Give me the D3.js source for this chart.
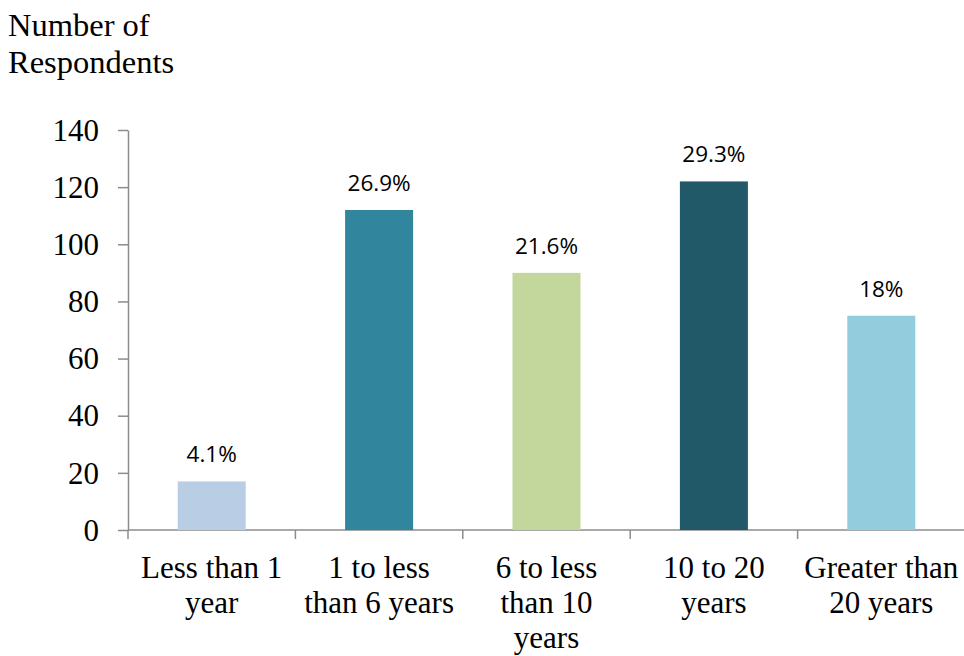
<!DOCTYPE html>
<html>
<head>
<meta charset="utf-8">
<script src="https://cdn.jsdelivr.net/npm/d3@7"></script>
<style>
body{margin:0;background:#fff;}
</style>
</head>
<body>
<div id="chart"></div>
<script>
// data
var categories = [["Less than 1","year"],["1 to less","than 6 years"],["6 to less","than 10","years"],["10 to 20","years"],["Greater than","20 years"]];
var values = [17, 112, 90, 122, 75];
var labels = ["4.1%","26.9%","21.6%","29.3%","18%"];
var colors = ["#B9CDE5","#31859C","#C3D69B","#215968","#93CDDD"];
var yTicks = [0,20,40,60,80,100,120,140];

var W = 964, H = 656;
var mLeft = 128, mRight = 965, mTop = 130, mBottom = 530;
var serif = "'Liberation Serif','Times New Roman',serif";
var sans = "'Open Sans','Noto Sans',sans-serif";
var axisClr = "#8c8c8c";

var svg = d3.select("#chart").append("svg")
	.attr("width", W).attr("height", H);

var keys = categories.map(function(d,i){ return i; });
var x = d3.scaleBand().domain(keys).range([mLeft, mRight]).paddingInner(0).paddingOuter(0);
var y = d3.scaleLinear().domain([0,140]).range([mBottom, mTop]);
var barW = 68;

// title
svg.append("text").attr("x",8).attr("y",36)
	.style("font-family",serif).style("font-size","32.5px").text("Number of");
svg.append("text").attr("x",8).attr("y",73)
	.style("font-family",serif).style("font-size","32.5px").text("Respondents");

// y axis
var yAxis = svg.append("g").attr("transform","translate("+mLeft+",0)")
	.call(d3.axisLeft(y).tickValues(yTicks).tickSize(10).tickSizeOuter(0).tickPadding(19));
yAxis.selectAll("text").style("font-family",serif).style("font-size","31px").attr("fill","#000").attr("dy","0.33em");
yAxis.selectAll("line,path").attr("stroke",axisClr).attr("stroke-width",1.5);

// x axis line + ticks at boundaries
var bounds = d3.range(categories.length+1).map(function(i){ return mLeft + i*x.bandwidth(); });
svg.append("line").attr("x1",mLeft).attr("x2",mRight).attr("y1",mBottom).attr("y2",mBottom)
	.attr("stroke",axisClr).attr("stroke-width",1.5);
svg.selectAll(".xt").data(bounds).enter().append("line")
	.attr("x1",function(d){return d;}).attr("x2",function(d){return d;})
	.attr("y1",mBottom).attr("y2",mBottom+9)
	.attr("stroke",axisClr).attr("stroke-width",1.5);

// bars
svg.selectAll(".bar").data(values).enter().append("rect")
	.attr("x",function(d,i){ return x(i)+x.bandwidth()/2-barW/2; })
	.attr("y",function(d){ return y(d); })
	.attr("width",barW)
	.attr("height",function(d){ return mBottom-y(d); })
	.attr("fill",function(d,i){ return colors[i]; });

// data labels
svg.selectAll(".lbl").data(values).enter().append("text")
	.attr("x",function(d,i){ return x(i)+x.bandwidth()/2; })
	.attr("y",function(d){ return y(d)-19; })
	.attr("text-anchor","middle")
	.style("font-family",sans).style("font-size","22.5px")
	.text(function(d,i){ return labels[i]; });

// category labels
var cat = svg.selectAll(".cat").data(categories).enter().append("text")
	.attr("text-anchor","middle")
	.style("font-family",serif).style("font-size","31px");
cat.each(function(d,i){
	var t = d3.select(this);
	d.forEach(function(line,j){
		t.append("tspan").attr("x",x(i)+x.bandwidth()/2).attr("y",578+j*35).text(line);
	});
});
</script>
</body>
</html>
